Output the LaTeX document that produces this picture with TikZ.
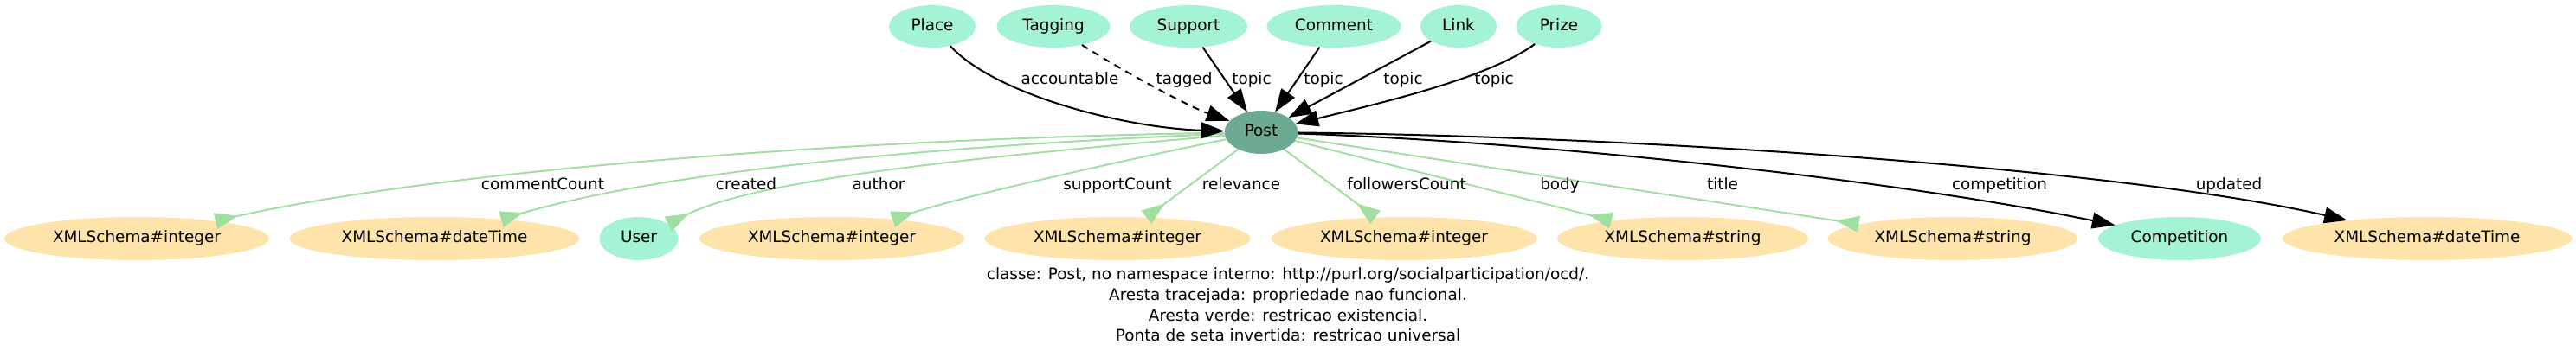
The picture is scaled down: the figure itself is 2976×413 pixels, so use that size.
\documentclass[tikz,border=0pt]{standalone}
\usepackage{fontspec}
\setmainfont{DejaVu Sans}
\usetikzlibrary{arrows.meta,shapes.geometric}
\definecolor{mint}{RGB}{163,243,212}
\definecolor{postc}{RGB}{108,170,145}
\definecolor{litc}{RGB}{254,228,170}
\definecolor{eg}{RGB}{160,223,160}
\begin{document}
\begin{tikzpicture}[x=0.75pt,y=-0.75pt,
  every node/.style={font=\fontsize{13.8pt}{16.5pt}\selectfont, text height=10pt, text depth=3pt},
  cls/.style={ellipse, fill=mint, inner sep=0pt, minimum height=36.75pt},
  bcls/.style={ellipse, fill=mint, inner sep=0pt, minimum height=37.5pt},
  lit/.style={ellipse, fill=litc, inner sep=0pt, minimum height=37.5pt},
  center/.style={ellipse, fill=postc, inner sep=0pt, minimum height=37.5pt, minimum width=63.75pt},
  lbl/.style={inner sep=0pt},
  blk/.style={draw=black, line width=1.5pt, -{Triangle[length=20pt,width=14pt]}},
  grn/.style={draw=eg, line width=1.5pt, -{Triangle[reversed,length=20pt,width=14pt]}}
]
\useasboundingbox (0,0) rectangle (2976,413);
% top row
\node[cls, minimum width=75pt]    (place)   at (1077,30.5) {Place};
\node[cls, minimum width=98.25pt] (tagging) at (1217,30.5) {Tagging};
\node[cls, minimum width=102pt]   (support) at (1373,30.5) {Support};
\node[cls, minimum width=116.25pt](comment) at (1541,30.5) {Comment};
\node[cls, minimum width=66pt]    (link)    at (1685,30.5) {Link};
\node[cls, minimum width=74.25pt] (prize)   at (1801,30.5) {Prize};
% centre
\node[center] (post) at (1457,153) {Post};
% bottom row
\node[lit, minimum width=229.5pt]  (i1)   at (158,276)  {XMLSchema\#integer};
\node[lit, minimum width=251.25pt] (dt1)  at (502,276)  {XMLSchema\#dateTime};
\node[bcls, minimum width=68.25pt] (user) at (738,276)  {User};
\node[lit, minimum width=229.5pt]  (i2)   at (961,276)  {XMLSchema\#integer};
\node[lit, minimum width=230.25pt] (i3)   at (1291,276) {XMLSchema\#integer};
\node[lit, minimum width=230.25pt] (i4)   at (1622,276) {XMLSchema\#integer};
\node[lit, minimum width=217.5pt]  (s1)   at (1944,276) {XMLSchema\#string};
\node[lit, minimum width=216.75pt] (s2)   at (2256,276) {XMLSchema\#string};
\node[bcls, minimum width=141pt]   (comp) at (2518,276) {Competition};
\node[lit, minimum width=251.25pt] (dt2)  at (2804,276) {XMLSchema\#dateTime};
% green edges (inverted heads)
\draw[grn] (post) .. controls (1000,160) and (520,195) .. (i1);
\draw[grn] (post) .. controls (1100,168) and (780,195) .. (dt1);
\draw[grn] (post) .. controls (1150,180) and (880,205) .. (user);
\draw[grn] (post) .. controls (1300,185) and (1120,225) .. (i2);
\draw[grn] (post) -- (i3);
\draw[grn] (post) -- (i4);
\draw[grn] (post) -- (s1);
\draw[grn] (post) -- (s2);
% black edges
\draw[blk] (post) .. controls (1800,165) and (2200,210) .. (comp);
\draw[blk] (post) .. controls (1900,158) and (2450,195) .. (dt2);
\draw[blk] (place) .. controls (1150,110) and (1300,148) .. (post);
\draw[blk, dash pattern=on 6pt off 5pt] (tagging) .. controls (1290,78) and (1370,122) .. (post);
\draw[blk] (support) -- (post);
\draw[blk] (comment) -- (post);
\draw[blk] (link) -- (post);
\draw[blk] (prize) .. controls (1720,90) and (1600,118) .. (post);
% edge labels
\node[lbl] (l1) at (1236,93) {accountable};
\node[lbl] (l2) at (1368,93) {tagged};
\node[lbl] (l3) at (1446,93) {topic};
\node[lbl] (l4) at (1529,93) {topic};
\node[lbl] (l5) at (1621,93) {topic};
\node[lbl] (l6) at (1726,93) {topic};
\node[lbl] (b1) at (627,215)  {commentCount};
\node[lbl] (b2) at (862,215)  {created};
\node[lbl] (b3) at (1015,215) {author};
\node[lbl] (b4) at (1291,215) {supportCount};
\node[lbl] (b5) at (1434,215) {relevance};
\node[lbl] (b6) at (1625,215) {followersCount};
\node[lbl] (b7) at (1802,215) {body};
\node[lbl] (b8) at (1990,215) {title};
\node[lbl] (b9) at (2310,215) {competition};
\node[lbl] (b10) at (2575,215) {updated};
% legend
\node[lbl] (g1) at (1488,319) {classe: Post, no namespace interno: http://purl.org/socialparticipation/ocd/.};
\node[lbl] (g2) at (1488,343) {Aresta tracejada: propriedade nao funcional.};
\node[lbl] (g3) at (1488,367) {Aresta verde: restricao existencial.};
\node[lbl] (g4) at (1488,390) {Ponta de seta invertida: restricao universal};
\end{tikzpicture}
\end{document}
